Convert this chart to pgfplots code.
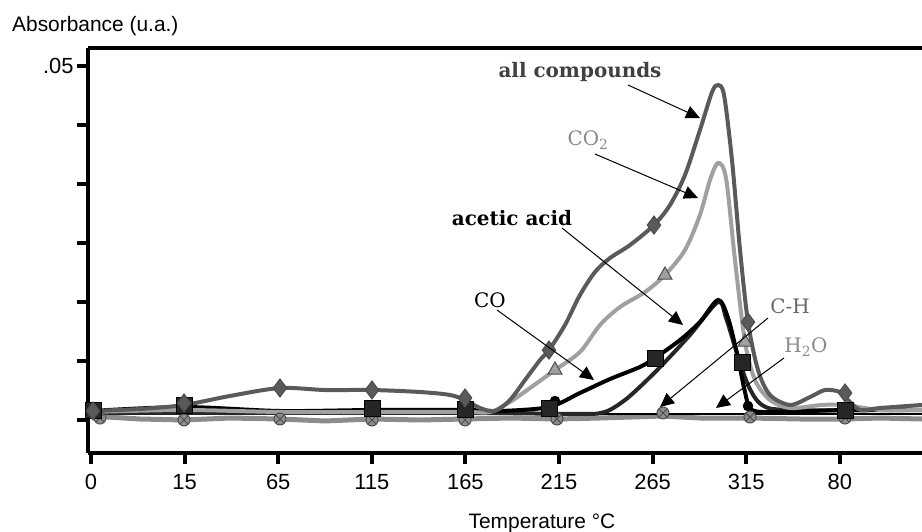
\documentclass[border=0pt]{standalone}
\usepackage{fontspec}
\setmainfont{Liberation Sans}
\newfontfamily\ser{DejaVu Serif}
\usepackage{pgfplots}
\pgfplotsset{compat=1.18}
\usetikzlibrary{arrows.meta,plotmarks}

\definecolor{allc}{HTML}{5A5A5A}
\definecolor{cotwo}{HTML}{A0A0A0}
\definecolor{water}{HTML}{8C8C8C}
\definecolor{txtgray}{HTML}{8A8A8A}

\begin{document}
\begin{tikzpicture}
\begin{axis}[
    scale only axis,
    width=834bp, height=405bp,
    xmin=-0.032, xmax=8.878,
    ymin=-0.004655, ymax=0.05247,
    axis x line=box, axis y line=left,
    axis line style={line width=4bp, -},
    xtick pos=bottom, ytick pos=left,
    tick align=outside,
    major tick length=11bp,
    major tick style={line width=4bp, black},
    xtick={0,1,2,3,4,5,6,7,8},
    xticklabels={0,15,65,115,165,215,265,315,80},
    ytick={0,0.008333,0.016667,0.025,0.033333,0.041667,0.05},
    yticklabels={,,,,,,.05},
    scaled y ticks=false,
    /pgf/number format/assume math mode=true,
    tick label style={font=\fontsize{22}{26}\selectfont},
    xticklabel style={yshift=-7bp},
    clip=true,
]
% H2O
\addplot[water, line width=5bp, no markers] coordinates {
(0,0.00056) (0.524,0.00014) (0.994,0) (1.485,0.00028) (2.019,0.00014)
(2.500,-0.00014) (3.002,0.00014) (3.515,0) (3.996,0.00014) (4.476,0.00028)
(4.978,0.00014) (5.438,0.00028) (6.111,0.00056) (6.506,0.00028) (7.040,0.00028)
(7.575,0.00014) (8.056,0.00014) (8.429,0.00028) (8.878,0.00014)};
% C-H
\addplot[black, line width=1.5bp, no markers] coordinates {
(0,0.00085) (4.0,0.00085) (7.0,0.00085) (8.878,0.00085)};
% CO
\addplot[black!85, line width=4bp, no markers, smooth] coordinates {
(0,0.00099) (3.996,0.00099) (5.224,0.00085) (5.491,0.00113) (5.705,0.00282)
(5.919,0.00536) (6.132,0.00818) (6.399,0.01199) (6.699,0.01664) (6.784,0.01439)
(6.891,0.00987) (7.019,0.00494) (7.169,0.00212) (7.468,0.00141) (8.878,0.00141)};
% acetic acid
\addplot[black, line width=4bp, no markers, smooth] coordinates {
(0,0.00127) (0.994,0.00183) (2.019,0.00127) (3.002,0.00141) (3.996,0.00141)
(4.370,0.00127) (4.893,0.00183) (5.224,0.00381) (5.545,0.00578) (5.865,0.00748)
(6.026,0.00875) (6.293,0.01128) (6.506,0.01382) (6.699,0.01693) (6.806,0.01439)
(6.912,0.00875) (6.987,0.00395) (7.062,0.00141) (7.361,0.00113) (8.056,0.00141)
(8.878,0.00141)};
% CO2
\addplot[cotwo, line width=4bp, no markers, smooth] coordinates {
(0,0.00113) (0.994,0.00141) (2.019,0.00113) (3.002,0.00113) (3.996,0.00113)
(4.263,0.00113) (4.476,0.00254) (4.690,0.00451) (4.957,0.00705) (5.224,0.00959)
(5.438,0.01340) (5.652,0.01594) (5.919,0.01805) (6.132,0.02045) (6.346,0.02398)
(6.506,0.02892) (6.613,0.03385) (6.699,0.03625) (6.784,0.03413) (6.880,0.02257)
(6.987,0.01100) (7.094,0.00564) (7.254,0.00282) (7.468,0.00169) (7.810,0.00212)
(8.056,0.00212) (8.429,0.00141) (8.878,0.00141)};
% all compounds
\addplot[allc, line width=4bp, no markers, smooth] coordinates {
(0,0.00127) (0.524,0.00155) (0.994,0.00212) (1.485,0.00339) (2.019,0.00451)
(2.500,0.00423) (3.002,0.00423) (3.515,0.00395) (3.835,0.00353) (3.996,0.00282)
(4.156,0.00169) (4.316,0.00127) (4.476,0.00282) (4.637,0.00564) (4.797,0.00846)
(4.893,0.00987) (5.064,0.01340) (5.224,0.01763) (5.385,0.02088) (5.545,0.02285)
(5.759,0.02468) (6.015,0.02750) (6.186,0.03033) (6.346,0.03456) (6.506,0.04090)
(6.635,0.04626) (6.699,0.04725) (6.763,0.04584) (6.848,0.03667) (6.934,0.02398)
(7.019,0.01382) (7.126,0.00705) (7.254,0.00353) (7.468,0.00212) (7.682,0.00324)
(7.842,0.00423) (8.002,0.00395) (8.088,0.00282) (8.216,0.00141) (8.429,0.00169)
(8.878,0.00212)};
% markers
\addplot[only marks, mark=otimes*, mark size=6bp, mark options={fill=water, draw=black!70, line width=1bp}] coordinates {
(0.096,0.00028) (0.994,0) (2.019,0.00014) (3.002,0) (3.996,0) (4.978,0.00014)
(6.111,0.00099) (7.040,0.00042) (8.056,0.00028)};
\addplot[only marks, mark=*, mark size=5bp, black] coordinates {
(4.957,0.00268) (7.019,0.00197)};
\addplot[only marks, mark=square*, mark size=8bp, mark options={fill=black!85, draw=black}] coordinates {
(0.021,0.00141) (0.994,0.00212) (3.002,0.00169) (3.996,0.00155) (4.893,0.00169)
(6.026,0.00875) (6.955,0.00818) (8.056,0.00141)};
\addplot[only marks, mark=triangle*, mark size=8bp, mark options={fill=cotwo, draw=black!70, line width=1bp}] coordinates {
(4.957,0.00705) (6.132,0.02045) (6.987,0.01100)};
\addplot[only marks, mark=diamond*, mark size=9bp, mark options={fill=allc, draw=black!70, line width=1bp}] coordinates {
(0.021,0.00127) (0.994,0.00240) (2.019,0.00451) (3.002,0.00423) (3.996,0.00310)
(4.893,0.00987) (6.015,0.02750) (7.019,0.01382) (8.056,0.00381)};
\end{axis}
\begin{scope}[x=1bp, y=1bp]
\node[anchor=base west, inner sep=0pt, font=\fontsize{21}{25}\selectfont] at (-76,421) {Absorbance (u.a.)};
\node[anchor=base, inner sep=0pt, font=\fontsize{21}{25}\selectfont] at (454,-75) {Temperature °C};
\tikzset{ann/.style={black, line width=1bp, -{Triangle[length=14bp,width=13bp]}}}
\draw[ann] (540,368) -- (612,335);
\draw[ann] (507,299) -- (610,255);
\draw[ann] (474,225) -- (595,128);
\draw[ann] (409,143) -- (506,73);
\draw[ann] (680,135) -- (572,46);
\draw[ann] (696,95) -- (628,45);
\node[text=black!75, font=\ser\bfseries\fontsize{20}{24}\selectfont] at (492,381) {all compounds};
\node[text=txtgray, font=\ser\fontsize{20}{24}\selectfont] at (500,313) {CO\textsubscript{2}};
\node[text=black, font=\ser\bfseries\fontsize{20}{24}\selectfont] at (424,235) {acetic acid};
\node[text=black, font=\ser\fontsize{20}{24}\selectfont] at (402,153) {CO};
\node[text=black!60, font=\ser\fontsize{20}{24}\selectfont] at (702,147) {C-H};
\node[text=txtgray, font=\ser\fontsize{20}{24}\selectfont] at (718,106) {H\textsubscript{2}O};
\end{scope}
\pgfresetboundingbox
\path[use as bounding box] (-88bp,-79bp) rectangle (834bp,453bp);
\end{tikzpicture}
\end{document}
